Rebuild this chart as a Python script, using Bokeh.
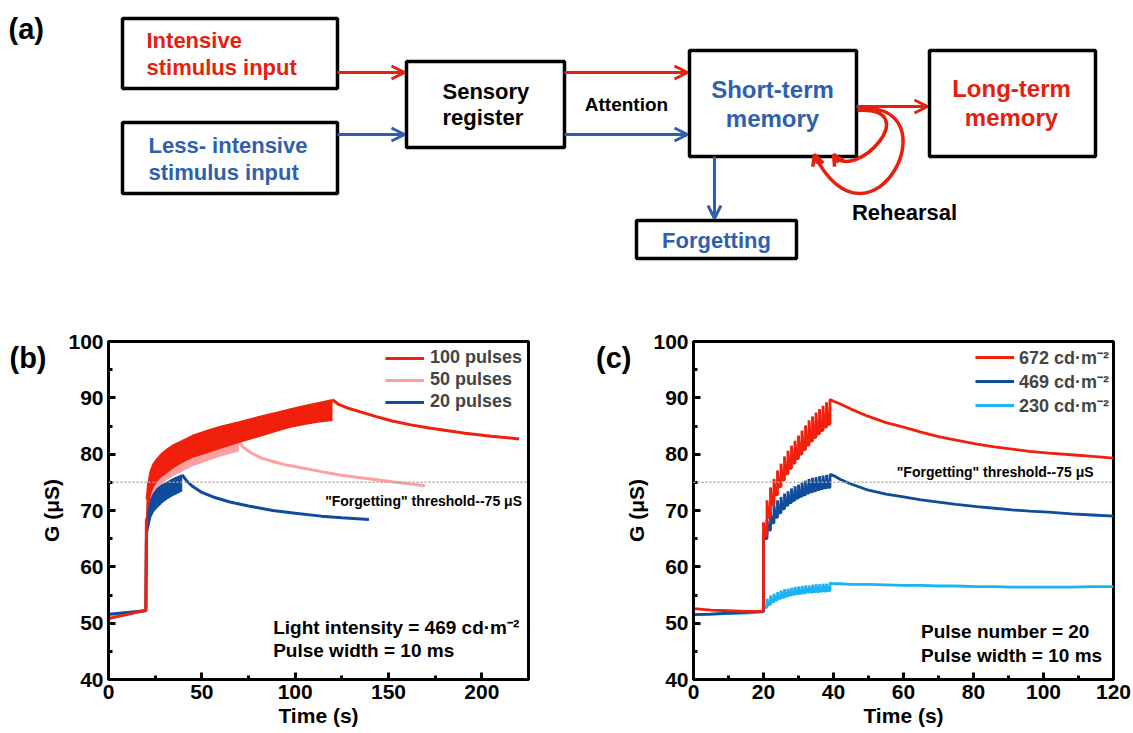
from bokeh.plotting import figure
from bokeh.layouts import column, row
from bokeh.models import (Range1d, Label, Arrow, OpenHead, Span, Legend, LegendItem,
                          FixedTicker, LinearAxis)
from bokeh.embed import file_html
from bokeh.resources import INLINE

FONT = "Liberation Sans"
RED = "#f0200c"
PINK = "#ff9f9f"
DBLUE = "#0f4c9c"
LBLUE = "#1ab4f2"
DRED = "#e5200e"
DBL = "#2e60ad"

# ---------------- panel (a): diagram content ----------------
box_left = [122, 122, 406, 689, 929, 636]
box_right = [337, 337, 564, 856, 1095, 796]
box_top = [18, 122, 61, 50, 50, 220]
box_bottom = [88, 193, 147, 156, 156, 258]

diagram_texts = ["Intensive", "stimulus input", "Less- intensive", "stimulus input",
                 "Sensory", "register", "Attention", "Short-term", "memory",
                 "Long-term", "memory", "Forgetting", "Rehearsal"]

# ---------------- panel (b) data ----------------
b_labels = ["100 pulses", "50 pulses", "20 pulses"]
b100_base_t = [0, 20, 20.3]
b100_base_g = [50.8, 52.3, 68.5]
b100_band_t = [20.3, 21, 22.5, 24, 26, 28.5, 31.4, 35, 39.5, 45, 52.9, 60, 69.8,
               80, 90, 97.5, 105, 112, 120]
b100_band_hi = [72.0, 74.5, 77.1, 78.3, 79.2, 80.1, 80.9, 81.7, 82.4, 83.3, 84.2, 84.9,
                85.7, 86.6, 87.4, 88.0, 88.6, 89.1, 89.65]
b100_band_lo = [68.5, 70.6, 73.0, 74.3, 75.3, 76.1, 76.8, 77.7, 78.6, 79.5, 80.3, 81.1,
                82.1, 83.1, 84.1, 84.8, 85.3, 85.7, 86.0]
b100_decay_t = [120, 123, 128, 135, 143, 152, 162, 171, 181, 191, 205, 220]
b100_decay_g = [89.65, 88.9, 88.2, 87.5, 86.7, 85.9, 85.2, 84.7, 84.2, 83.7, 83.2, 82.7]

b50_base_t = [0, 20, 20.5]
b50_base_g = [51.1, 52.3, 67.5]
b50_band_t = [20.5, 21, 22.5, 24, 26, 28.5, 31.4, 35, 39.5, 45, 52.9, 60, 69.8]
b50_band_hi = [70.0, 71.5, 73.5, 74.8, 75.8, 76.6, 77.3, 78.1, 79.0, 79.9, 80.7, 81.4, 82.2]
b50_band_lo = [67.5, 69.5, 71.5, 72.9, 74.1, 74.9, 75.6, 76.3, 77.1, 78.0, 78.9, 79.7, 80.6]
b50_decay_t = [70, 72, 76, 82, 89, 95, 106, 114, 124, 133, 152, 169.5]
b50_decay_g = [82.2, 81.3, 80.3, 79.3, 78.6, 78.1, 77.4, 76.9, 76.3, 75.9, 75.1, 74.4]

b20_base_t = [0, 20, 20.3]
b20_base_g = [51.6, 52.2, 65.0]
b20_band_t = [20.3, 21, 22.5, 24, 26.1, 28.5, 31.4, 35, 39.5]
b20_band_hi = [68.5, 70.0, 71.8, 72.9, 73.85, 74.5, 75.0, 75.7, 76.3]
b20_band_lo = [65.0, 66.5, 68.8, 69.8, 70.6, 71.4, 72.1, 72.8, 73.55]
b20_decay_t = [39.5, 42, 45, 50, 57, 65, 75, 88, 100, 114, 125, 139.5]
b20_decay_g = [76.3, 75.2, 74.3, 73.2, 72.3, 71.5, 70.8, 70.0, 69.5, 69.0, 68.7, 68.4]

# ---------------- panel (c) data ----------------
c_labels = ["672 cd·m⁻²", "469 cd·m⁻²", "230 cd·m⁻²"]
c_pulse_t = [20, 21, 22, 23, 24, 25, 26, 27, 28, 29, 30, 31, 32, 33, 34, 35, 36, 37, 38, 39]
c_base_t = [0, 5, 10, 15, 20]
c_decay_t = [39, 40, 42, 45, 50, 55, 60, 65, 70, 75, 81, 86, 91, 96, 101.5, 108, 114, 120]

c672_base = [52.6, 52.3, 52.2, 52.1, 52.1]
c672_peak = [67.9, 71.8, 74.1, 75.6, 77.1, 78.3, 79.6, 80.6, 81.5, 82.4,
             83.3, 84.2, 85.1, 86.0, 86.7, 87.4, 88.0, 88.6, 89.2, 89.7]
c672_trough = [52.1, 65.5, 68.8, 71.0, 72.8, 74.2, 75.4, 76.5, 77.5, 78.4,
               79.2, 80.0, 80.8, 81.6, 82.3, 83.0, 83.6, 84.2, 84.8, 85.3]
c672_decay = [89.7, 89.4, 88.9, 88.0, 86.7, 85.6, 84.8, 83.9, 83.1, 82.5,
              81.8, 81.3, 80.9, 80.5, 80.2, 79.9, 79.6, 79.3]

c469_base = [51.5, 51.6, 51.8, 51.9, 52.1]
c469_peak = [65.3, 68.2, 69.7, 70.9, 71.8, 72.4, 73.0, 73.4, 73.9, 74.3,
             74.6, 75.0, 75.3, 75.6, 75.8, 75.9, 76.1, 76.2, 76.3, 76.4]
c469_trough = [52.1, 65.0, 66.5, 67.8, 68.8, 69.6, 70.3, 70.9, 71.4, 71.8,
               72.2, 72.5, 72.8, 73.1, 73.3, 73.5, 73.7, 73.9, 74.0, 74.1]
c469_decay = [76.4, 76.2, 75.5, 74.7, 73.6, 72.9, 72.4, 71.9, 71.5, 71.1,
              70.7, 70.4, 70.1, 69.9, 69.7, 69.4, 69.2, 69.0]

c230_base = [51.5, 51.6, 51.7, 51.8, 52.0]
c230_peak = [53.4, 54.3, 54.9, 55.2, 55.5, 55.8, 56.0, 56.1, 56.3, 56.4,
             56.5, 56.6, 56.7, 56.7, 56.8, 56.9, 56.9, 57.0, 57.0, 57.1]
c230_trough = [52.0, 52.8, 53.3, 53.8, 54.1, 54.4, 54.6, 54.8, 55.0, 55.1,
               55.2, 55.3, 55.4, 55.5, 55.5, 55.6, 55.6, 55.7, 55.7, 55.8]
c230_decay = [57.1, 57.0, 57.0, 56.9, 56.9, 56.8, 56.7, 56.7, 56.6, 56.6,
              56.5, 56.5, 56.4, 56.4, 56.4, 56.4, 56.5, 56.5]

threshold = 75
y_ticks = [40, 50, 60, 70, 80, 90, 100]
y_minor = [45, 55, 65, 75, 85, 95]
b_x_ticks = [0, 50, 100, 150, 200]
b_x_minor = [25, 75, 125, 175]
c_x_ticks = [0, 20, 40, 60, 80, 100, 120]
c_x_minor = [10, 30, 50, 70, 90, 110]


# ================= panel (a) =================
pa = figure(width=1133, height=305, x_range=Range1d(0, 1133), y_range=Range1d(305, 0),
            x_axis_type=None, y_axis_type=None, toolbar_location=None,
            output_backend="svg", min_border=0, outline_line_color=None)
pa.grid.visible = False
pa.quad(left=box_left, right=box_right, top=box_top, bottom=box_bottom,
        fill_color="white", line_color="black", line_width=3.5)

def dlabel(text, x, y, color, size, align="left"):
    pa.add_layout(Label(x=x, y=y, text=text, text_color=color, text_font=FONT,
                        text_font_size=size, text_font_style="bold",
                        text_align=align, text_baseline="middle"))

dlabel("(a)", 8, 28, "black", "29px")
text_x = [146, 146, 148, 148, 442, 442, 626, 772, 772, 1011, 1011, 716, 904]
text_y = [40, 67, 145, 172, 91, 117, 104, 89, 118, 88, 117, 240, 212]
text_c = [DRED, DRED, DBL, DBL, "black", "black", "black", DBL, DBL, DRED, DRED, DBL, "black"]
text_s = ["22px", "22px", "22px", "22px", "22px", "22px", "19px", "24px", "24px",
          "24px", "24px", "22px", "22px"]
text_a = ["left", "left", "left", "left", "left", "left", "center", "center", "center",
          "center", "center", "center", "center"]
for t, x, y, c, s, a in zip(diagram_texts, text_x, text_y, text_c, text_s, text_a):
    dlabel(t, x, y, c, s, a)

arrows = [(337, 72, 404, 72, DRED), (337, 134, 404, 134, DBL),
          (564, 72, 687, 72, DRED), (564, 134, 687, 134, DBL),
          (856, 106, 927, 106, DRED), (714, 156, 714, 218, DBL)]
for x0, y0, x1, y1, c in arrows:
    pa.add_layout(Arrow(x_start=x0, y_start=y0, x_end=x1, y_end=y1, line_color=c,
                        line_width=3,
                        end=OpenHead(size=13, line_color=c, line_width=3)))

# rehearsal loops
pa.bezier(x0=[857, 858], y0=[110, 108], x1=[833, 814], y1=[155, 155],
          cx0=[925, 955], cy0=[106, 100], cx1=[855, 872], cy1=[182, 265],
          line_color=DRED, line_width=3.5)
pa.add_layout(Arrow(x_start=838, y_start=162, x_end=833, y_end=154, line_color=DRED,
                    line_width=3.5, end=OpenHead(size=11, line_color=DRED, line_width=3.5)))
pa.add_layout(Arrow(x_start=817, y_start=163, x_end=814, y_end=154, line_color=DRED,
                    line_width=3.5, end=OpenHead(size=11, line_color=DRED, line_width=3.5)))


# ================= helper for (b)/(c) =================
def make_panel(xmax, xticks, xminor, left_border, right_border, tag):
    p = figure(frame_width=420, frame_height=338,
               x_range=Range1d(0, xmax), y_range=Range1d(40, 100),
               toolbar_location=None, output_backend="svg",
               min_border_left=left_border, min_border_right=right_border,
               min_border_top=36, min_border_bottom=54,
               outline_line_color="black", outline_line_width=3)
    p.grid.visible = False
    p.xaxis.ticker = FixedTicker(ticks=xticks, minor_ticks=xminor)
    p.yaxis.ticker = FixedTicker(ticks=y_ticks, minor_ticks=y_minor)
    p.xaxis.axis_label = "Time (s)"
    p.yaxis.axis_label = "G (μS)"
    for ax in (p.xaxis, p.yaxis):
        ax.axis_line_width = 3
        ax.major_tick_line_width = 3
        ax.minor_tick_line_width = 3
        ax.major_tick_in = 7
        ax.major_tick_out = 0
        ax.minor_tick_in = 4
        ax.minor_tick_out = 0
        ax.major_label_text_font = FONT
        ax.major_label_text_font_size = "21px"
        ax.major_label_text_font_style = "bold"
        ax.major_label_text_color = "black"
        ax.axis_label_text_font = FONT
        ax.axis_label_text_font_size = "21px"
        ax.axis_label_text_font_style = "bold"
        ax.axis_label_text_color = "black"
        ax.major_label_standoff = 5
        ax.axis_label_standoff = 2
    # panel tag, drawn as the only label of an extra outer axis
    tag_axis = LinearAxis(ticker=FixedTicker(ticks=[97]), major_label_overrides={97: tag},
                          axis_line_color=None, major_tick_line_color=None,
                          minor_tick_line_color=None, major_label_standoff=-15,
                          major_label_text_font=FONT, major_label_text_font_size="29px",
                          major_label_text_font_style="bold", major_label_text_color="black")
    p.add_layout(tag_axis, "left")
    p.add_layout(Span(location=threshold, dimension="width", line_color="#a8a8a8",
                      line_dash="2 2", line_width=1.5))
    return p

def plabel(p, text, x, y, size, align="left"):
    p.add_layout(Label(x=x, y=y, text=text, text_font=FONT, text_font_size=size,
                       text_font_style="bold", text_color="black",
                       text_align=align, text_baseline="middle"))

# ================= panel (b) =================
pb = make_panel(225, b_x_ticks, b_x_minor, 108, 38, "(b)")
series_b = [
    (b50_base_t, b50_base_g, b50_band_t, b50_band_lo, b50_band_hi, b50_decay_t, b50_decay_g, PINK),
    (b20_base_t, b20_base_g, b20_band_t, b20_band_lo, b20_band_hi, b20_decay_t, b20_decay_g, DBLUE),
    (b100_base_t, b100_base_g, b100_band_t, b100_band_lo, b100_band_hi, b100_decay_t, b100_decay_g, RED),
]
b_rend = {}
for bt, bg, tt, lo, hi, dt, dg, col in series_b:
    r = pb.line(bt, bg, line_color=col, line_width=3)
    pb.varea(x=tt, y1=lo, y2=hi, fill_color=col)
    pb.line(tt, hi, line_color=col, line_width=1.5)
    pb.line(tt, lo, line_color=col, line_width=1.5)
    pb.line(dt, dg, line_color=col, line_width=3)
    b_rend[col] = r

leg_b = Legend(items=[LegendItem(label=b_labels[0], renderers=[b_rend[RED]]),
                      LegendItem(label=b_labels[1], renderers=[b_rend[PINK]]),
                      LegendItem(label=b_labels[2], renderers=[b_rend[DBLUE]])],
               location="top_right", margin=6, padding=0, spacing=1,
               glyph_width=39, glyph_height=20, label_height=20, label_standoff=6,
               border_line_color=None, background_fill_alpha=0,
               label_text_font=FONT, label_text_font_size="18px",
               label_text_font_style="bold")
pb.add_layout(leg_b)

plabel(pb, '"Forgetting" threshold--75 μS', 221.5, 71.6, "14px", "right")
plabel(pb, "Light intensity = 469 cd·m⁻²", 88.2, 49.3, "19px")
plabel(pb, "Pulse width = 10 ms", 88.2, 45.2, "19px")

# ================= panel (c) =================
pc = make_panel(120, c_x_ticks, c_x_minor, 127, 20, "(c)")

def sawtooth(base, trough, peak, decay):
    xs = list(c_base_t)
    ys = list(base)
    n = len(c_pulse_t)
    for k in range(n):
        xs += [c_pulse_t[k], c_pulse_t[k]]
        ys += [trough[k], peak[k]]
        if k < n - 1:
            xs += [c_pulse_t[k] + 0.4, c_pulse_t[k + 1]]
            ys += [trough[k + 1], trough[k + 1]]
    xs += list(c_decay_t)
    ys += list(decay)
    return xs, ys

c_rend = []
for base, tr, pk, dc, col in [(c230_base, c230_trough, c230_peak, c230_decay, LBLUE),
                              (c469_base, c469_trough, c469_peak, c469_decay, DBLUE),
                              (c672_base, c672_trough, c672_peak, c672_decay, RED)]:
    xs, ys = sawtooth(base, tr, pk, dc)
    c_rend.append(pc.line(xs, ys, line_color=col, line_width=2.8))

leg_c = Legend(items=[LegendItem(label=c_labels[0], renderers=[c_rend[2]]),
                      LegendItem(label=c_labels[1], renderers=[c_rend[1]]),
                      LegendItem(label=c_labels[2], renderers=[c_rend[0]])],
               location="top_right", margin=4, padding=0, spacing=0,
               glyph_width=39, glyph_height=20, label_height=20, label_standoff=5,
               border_line_color=None, background_fill_alpha=0,
               label_text_font=FONT, label_text_font_size="18px",
               label_text_font_style="bold")
pc.add_layout(leg_c)

plabel(pc, '"Forgetting" threshold--75 μS', 114.3, 76.8, "14px", "right")
plabel(pc, "Pulse number = 20", 65.0, 48.5, "19px")
plabel(pc, "Pulse width = 10 ms", 65.0, 44.3, "19px")

layout = column(pa, row(pb, pc))
open("out.html", "w").write(file_html(layout, INLINE))
